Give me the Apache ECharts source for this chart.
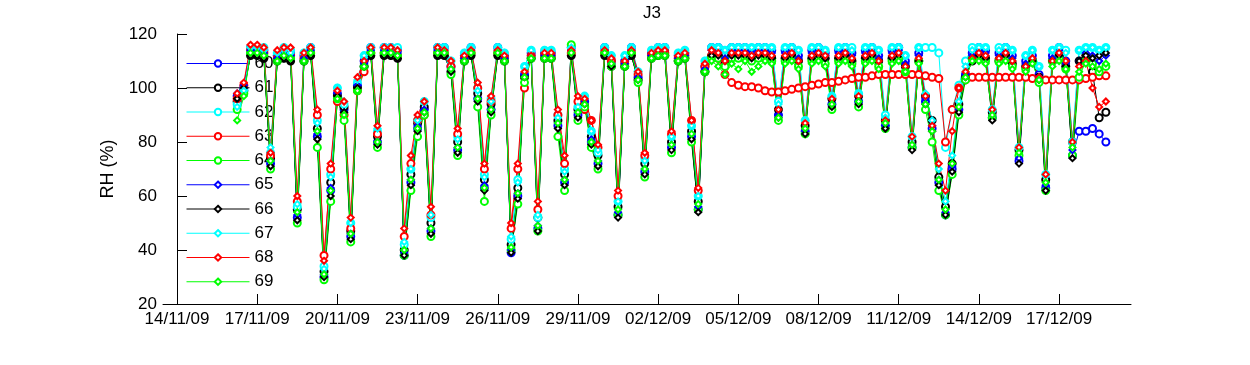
<!DOCTYPE html>
<html>
<head>
<meta charset="utf-8">
<script src="https://cdn.jsdelivr.net/npm/echarts@6/dist/echarts.min.js"></script>
<style>
  html, body { margin: 0; padding: 0; background: #fff; }
  #main { width: 1250px; height: 365px; }
</style>
</head>
<body>
<div id="main"></div>
<script>
// x in days since 14/11/2009 00:00; samples every 6 h starting 16/11/2009 06:00
const startDay = 2.25;
const stepDay = 0.25;

const seriesNames = ["60", "61", "62", "63", "64", "65", "66", "67", "68", "69"];
const seriesColors = ["#0000ff", "#000000", "#00ffff", "#ff0000", "#00ff00",
                      "#0000ff", "#000000", "#00ffff", "#ff0000", "#00ff00"];
const xTickLabels = ["14/11/09", "17/11/09", "20/11/09", "23/11/09", "26/11/09", "29/11/09",
                     "02/12/09", "05/12/09", "08/12/09", "11/12/09", "14/12/09", "17/12/09"];
const xTickDays = [0, 3, 6, 9, 12, 15, 18, 21, 24, 27, 30, 33];
const yTicks = [20, 40, 60, 80, 100, 120];

const rh60 = [97,100,115,115,114,72,112,114,113,52,
  112,115,82,30,62,98,92,45,101,110,
  115,80,115,115,114,38,65,85,92,47,
  115,115,108,77,112,115,96,63,92,115,
  112,39,60,105,113,48,113,113,86,65,
  115,90,95,80,72,115,110,53,110,115,
  104,69,113,115,115,78,112,113,82,55,
  108,115,115,112,115,115,115,114,115,115,
  114,90,114,115,112,84,114,115,113,94,
  114,115,113,95,114,115,112,86,114,115,
  110,78,113,95,85,65,53,70,92,105,
  113,115,114,89,113,115,112,73,110,112,
  105,63,112,115,110,75,84,84,85,83,
  80];
const rh61 = [95,99,112,112,111,74,110,111,110,55,
  110,112,85,32,65,97,93,47,100,108,
  112,82,112,112,111,40,68,87,93,50,
  112,112,106,80,110,112,98,66,94,112,
  110,42,63,104,111,52,111,111,88,68,
  112,92,93,82,75,112,108,56,108,112,
  103,72,111,112,112,80,110,111,84,58,
  106,112,112,110,112,112,112,111,112,112,
  111,92,111,112,110,86,111,112,111,96,
  111,112,110,97,111,112,110,88,111,112,
  108,80,110,97,88,67,56,72,94,104,
  110,112,111,91,110,112,109,77,108,110,
  104,66,110,112,108,80,110,112,106,89,
  91];
const rh62 = [94,99,115,115,115,76,113,115,114,56,
  113,115,88,34,68,100,94,50,102,112,
  115,84,115,115,115,42,70,88,95,52,
  115,115,110,82,113,115,100,68,96,115,
  113,44,66,108,114,52,114,114,90,70,
  115,93,97,84,76,115,112,58,112,115,
  106,74,114,115,115,82,113,114,86,60,
  110,115,115,114,115,115,115,115,115,115,
  115,95,115,115,114,88,115,115,114,97,
  115,115,115,98,115,115,114,90,115,115,
  112,82,115,115,115,113,78,92,101,110,
  115,115,115,92,115,115,114,78,112,114,
  108,68,114,115,114,80,114,115,115,114,
  115];
const rh63 = [96,101,114,114,113,75,111,113,112,58,
  111,113,90,38,70,95,90,48,99,106,
  113,83,113,113,112,45,72,88,90,53,
  113,113,108,83,111,113,100,70,95,113,
  111,48,70,100,112,55,112,112,90,72,
  113,95,92,88,78,113,110,60,109,113,
  105,75,112,113,113,83,111,112,88,62,
  108,112,111,105,102,101,100.5,100.5,100,99,
  98.5,98.5,99,99.5,100,100.5,101,101.5,102,102,
  102.5,103,103.5,104,104,104.5,105,105,105,105,
  105,105,105,104.5,104,103.5,80,92,100,103,
  104,104,104,104,104,104,104,104,104,103.5,
  103,103,103,103,103,103,103,103.5,104,104.5,
  104.5];
const rh64 = [92,98,113,113,112,70,110,112,111,50,
  110,113,78,29,58,96,88,43,99,108,
  113,78,113,113,112,38,62,82,90,45,
  113,113,105,75,110,113,93,58,90,113,
  110,40,57,102,111,47,111,111,82,62,
  116,88,93,78,70,113,108,53,108,113,
  102,67,111,112,112,76,110,111,80,55,
  106,111,111,108,111,111,111,110,111,111,
  110,88,110,111,108,83,110,111,109,92,
  110,111,109,93,110,111,108,85,110,111,
  106,78,110,92,80,62,53,68,90,103,
  111,111,110,89,110,111,108,75,107,110,
  102,62,110,111,107,75,104,110,109,106,
  108];
const rh65 = [98,101,114,114,113,73,111,113,112,53,
  111,114,83,31,63,98,91,46,101,109,
  114,80,114,114,113,39,66,86,92,48,
  114,114,107,78,111,114,96,64,92,114,
  111,40,61,105,112,49,112,112,87,66,
  114,91,95,81,73,114,109,54,109,114,
  104,70,112,114,114,79,111,112,83,56,
  107,114,114,111,114,114,114,113,114,114,
  113,90,113,114,111,84,113,114,112,94,
  113,114,112,95,113,114,111,86,113,114,
  109,79,112,96,86,66,54,71,92,105,
  112,114,113,90,112,114,111,74,109,111,
  104,64,111,114,109,77,110,113,112,110,
  112];
const rh66 = [96,100,112,112,111,71,110,111,110,51,
  110,112,81,30,60,97,91,44,100,108,
  112,79,112,112,111,38,64,84,91,46,
  112,112,106,76,110,112,95,62,91,112,
  110,39,59,104,111,47,111,111,85,64,
  112,89,94,79,71,112,108,52,108,112,
  103,68,111,112,112,77,110,111,81,54,
  106,112,112,110,112,112,112,111,112,112,
  111,89,111,112,110,83,111,112,111,93,
  111,112,110,94,111,112,110,85,111,112,
  108,77,110,94,84,64,53,69,91,104,
  111,112,111,88,111,112,110,72,108,110,
  103,62,110,112,108,74,110,112,111,112,
  113];
const rh67 = [93,99,115,115,114,78,113,114,113,57,
  113,115,87,33,67,100,95,50,103,112,
  115,85,115,115,114,43,70,88,95,53,
  115,115,110,81,113,115,99,67,95,115,
  113,45,65,108,114,53,114,114,89,69,
  115,93,97,84,77,115,112,58,112,115,
  106,73,114,115,115,82,113,114,86,60,
  110,115,115,114,115,115,115,115,115,115,
  115,94,115,115,114,88,115,115,114,97,
  115,115,114,98,115,115,114,89,115,115,
  112,82,115,98,88,70,58,75,95,108,
  114,115,115,92,114,115,114,78,112,114,
  108,68,114,115,113,80,114,115,115,114,
  115];
const rh68 = [98,102,116,116,115,76,114,115,115,60,
  113,115,92,36,72,99,95,52,104,110,
  115,86,115,115,114,48,75,90,95,56,
  115,114,110,85,112,114,102,72,97,114,
  112,50,72,106,112,58,113,113,92,75,
  114,97,96,88,79,114,111,62,110,114,
  106,76,113,114,114,84,112,113,88,63,
  109,114,113,110,113,113,113,112,113,113,
  112,92,112,113,110,87,112,113,112,96,
  112,113,111,97,112,113,110,88,112,113,
  108,82,111,97,86,72,62,84,100,106,
  111,113,112,92,111,113,110,78,108,111,
  104,68,110,113,110,80,108,110,100,93,
  95];
const rh69 = [88,97,113,113,112,73,110,112,111,54,
  110,113,84,31,62,96,90,46,99,108,
  113,80,113,113,112,40,66,85,91,48,
  113,113,107,78,110,113,96,63,92,113,
  110,41,61,104,111,49,111,111,87,66,
  113,91,94,80,73,113,109,55,108,113,
  103,70,111,112,112,79,110,111,83,57,
  106,110,108,105,109,107,110,106,108,110,
  109,89,109,110,107,85,109,110,108,94,
  109,110,108,95,109,110,107,87,109,110,
  106,79,109,94,84,66,55,72,93,104,
  110,110,109,90,109,110,107,76,106,109,
  103,65,108,110,107,78,106,109,108,107,
  109];

const allValues = [rh60, rh61, rh62, rh63, rh64, rh65, rh66, rh67, rh68, rh69];

const fontName = "Liberation Sans, Arial, sans-serif";

const series = allValues.map(function (vals, k) {
  return {
    name: seriesNames[k],
    type: "line",
    data: vals.map(function (v, i) { return [startDay + i * stepDay, v]; }),
    symbol: k < 5 ? "emptyCircle" : "emptyDiamond",
    symbolSize: k < 5 ? 7 : 6,
    showAllSymbol: true,
    z: 3,
    lineStyle: { width: 1, color: seriesColors[k] },
    itemStyle: { color: seriesColors[k], borderColor: seriesColors[k], borderWidth: 1 },
    emphasis: { disabled: true },
    animation: false
  };
});

const chart = echarts.init(document.getElementById("main"));
chart.setOption({
  animation: false,
  backgroundColor: "#fff",
  title: {
    text: "J3",
    left: 647,
    top: 0,
    textAlign: "center",
    textStyle: { fontFamily: fontName, fontSize: 17, fontWeight: "normal", color: "#000" }
  },
  legend: {
    data: seriesNames,
    orient: "vertical",
    left: 186,
    top: 55,
    padding: 0,
    z: 1,
    itemWidth: 63,
    itemHeight: 8,
    itemGap: 7.25,
    selectedMode: false,
    lineStyle: { width: 1 },
    itemStyle: { borderWidth: 1 },
    textStyle: { fontFamily: fontName, fontSize: 17, color: "#000" }
  },
  grid: { left: 163, right: 119, top: 34, bottom: 61, containLabel: false },
  xAxis: {
    type: "value",
    min: -0.524,
    max: 35.69,
    axisLine: { show: true, lineStyle: { color: "#000", width: 1 } },
    axisTick: { show: true, inside: true, length: 10, lineStyle: { color: "#000" }, customValues: xTickDays },
    splitLine: { show: false },
    axisLabel: {
      customValues: xTickDays,
      margin: 7,
      color: "#000",
      fontFamily: fontName,
      fontSize: 17,
      formatter: function (v) {
        const idx = xTickDays.indexOf(Math.round(v));
        return idx >= 0 ? xTickLabels[idx] : "";
      }
    }
  },
  yAxis: {
    type: "value",
    min: yTicks[0],
    max: yTicks[yTicks.length - 1],
    interval: 20,
    name: "RH (%)",
    nameLocation: "middle",
    nameRotate: 90,
    nameGap: 46,
    nameTextStyle: { fontFamily: fontName, fontSize: 18, color: "#000" },
    axisLine: { show: true, lineStyle: { color: "#000", width: 1 } },
    axisTick: { show: true, inside: true, length: 10, lineStyle: { color: "#000" } },
    splitLine: { show: false },
    axisLabel: { margin: 6, color: "#000", fontFamily: fontName, fontSize: 17 }
  },
  series: series
});
</script>
</body>
</html>
